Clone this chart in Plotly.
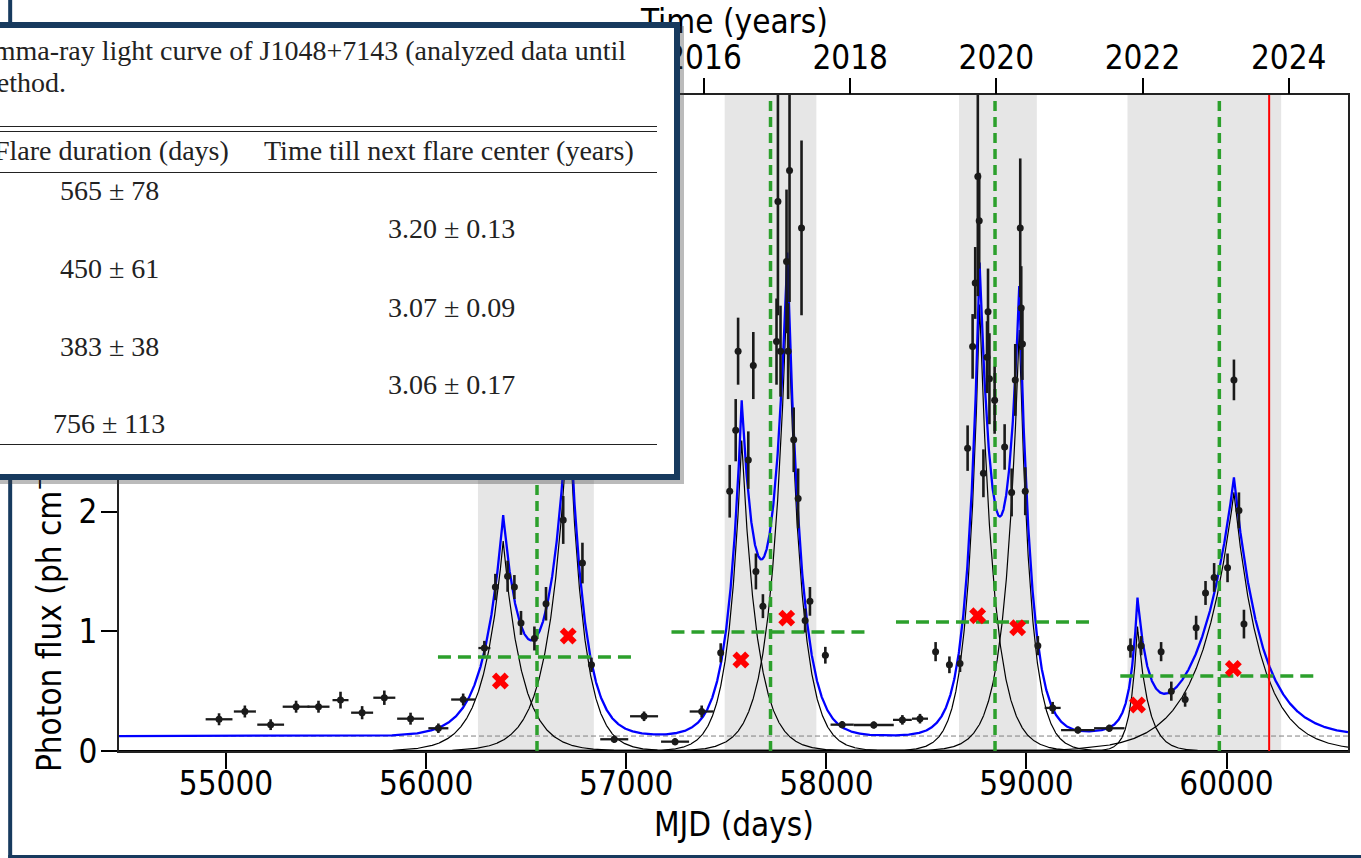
import numpy as np
import plotly.graph_objects as go

# ---------------- data ----------------
mjd = [54965, 55094, 55223, 55350, 55462, 55572, 55680, 55791, 55922, 56061, 56185, 56291,
       56346, 56407, 56441, 56474, 56541, 56599, 56685, 56781, 56826,
       56940, 57089, 57244, 57377, 57472,
       57517, 57547, 57559, 57610, 57635, 57648, 57683, 57751, 57758, 57771, 57801, 57809, 57816,
       57837, 57859, 57876, 57894, 57918, 57995, 58079, 58237, 58380, 58468,
       58546, 58615, 58668, 58706, 58731, 58744, 58757, 58764, 58785, 58803, 58808, 58815, 58841,
       58891, 58926, 58944, 58969, 58974, 58980, 58994, 59057, 59131, 59257, 59414,
       59520, 59573, 59673, 59724, 59793, 59848, 59895, 59938, 60005, 60037, 60062, 60087]
flux = [0.265, 0.33, 0.22, 0.37, 0.37, 0.425, 0.32, 0.445, 0.27, 0.19, 0.43, 0.86,
        1.37, 1.46, 1.37, 1.07, 0.94, 1.23, 1.93, 1.57, 0.72,
        0.098, 0.29, 0.078, 0.33, 0.82,
        2.17, 2.68, 3.34, 2.43, 3.22, 1.50, 1.21, 3.42, 4.59, 3.34, 4.09, 3.34, 4.85,
        2.60, 2.11, 4.37, 1.09, 1.25, 0.80, 0.22, 0.217, 0.26, 0.27,
        0.83, 0.72, 0.73, 2.53, 3.38, 3.91, 4.80, 4.43, 2.32, 3.29, 3.67, 3.11, 2.93,
        2.54, 2.16, 3.10, 4.37, 3.70, 3.40, 2.17, 0.88, 0.36, 0.175, 0.19,
        0.86, 0.88, 0.83, 0.50, 0.43, 1.03, 1.32, 1.45, 1.53, 3.10, 2.01, 1.06]
mjd_err = [67, 55, 67, 67, 55, 40, 55, 55, 67, 50, 60, 30,
           10, 10, 8, 10, 12, 8, 8, 8, 15,
           70, 70, 70, 60, 10,
           8, 6, 6, 6, 6, 8, 15, 6, 6, 6, 6, 6, 6,
           6, 6, 6, 10, 10, 15, 58, 100, 47, 40,
           10, 10, 10, 6, 6, 6, 6, 6, 6, 6, 6, 6, 6,
           6, 6, 6, 6, 6, 6, 6, 8, 40, 84, 76,
           8, 8, 8, 10, 15, 8, 8, 8, 8, 6, 6, 8]
flux_err = [0.05, 0.05, 0.045, 0.05, 0.05, 0.07, 0.055, 0.06, 0.05, 0.04, 0.05, 0.06,
            0.11, 0.13, 0.10, 0.10, 0.10, 0.14, 0.20, 0.17, 0.06,
            0.03, 0.04, 0.03, 0.05, 0.08,
            0.22, 0.26, 0.28, 0.24, 0.28, 0.15, 0.10, 0.36, 0.95, 0.38, 0.60, 0.40, 1.10,
            0.27, 0.25, 0.73, 0.10, 0.12, 0.07, 0.03, 0.03, 0.04, 0.04,
            0.08, 0.07, 0.07, 0.19, 0.27, 0.30, 1.00, 0.40, 0.20, 0.30, 0.36, 0.38, 0.28,
            0.19, 0.20, 0.30, 0.58, 0.35, 0.30, 0.20, 0.08, 0.05, 0.03, 0.03,
            0.08, 0.08, 0.08, 0.08, 0.06, 0.10, 0.10, 0.12, 0.12, 0.17, 0.15, 0.12]

cross_mjd = [56371, 56710, 57573, 57802, 58756, 58956, 59555, 60034]
cross_flux = [0.585, 0.96, 0.76, 1.11, 1.13, 1.03, 0.385, 0.69]

flare_center = [56554, 57721, 58843, 59964]
flare_start = [56259, 57492, 58663, 59505]
flare_end = [56838, 57950, 59052, 60273]
flare_level = [0.785, 0.994, 1.078, 0.627]
level_halfwidth = [495, 495, 495, 495]
baseline_flux = 0.125
last_data_mjd = 60213

# fitted flare components: peak time, amplitude, rise / decay time scales (days)
comp_t0 = [56385, 56712, 57577, 57805, 58766, 58964, 59555, 60037]
comp_amp = [1.754, 2.85, 2.594, 3.9, 3.73, 3.517, 1.04, 2.16]
comp_rise = [98, 95, 67, 78, 59, 72, 35, 165]
comp_decay = [95, 73, 78, 68, 72, 58, 55, 135]

mjd_ticks = [55000, 56000, 57000, 58000, 59000, 60000]
mjd_tick_text = ["55000", "56000", "57000", "58000", "59000", "60000"]
year_ticks = [2016, 2018, 2020, 2022, 2024]
y_ticks = [0, 1, 2]
X_RANGE = [54465, 60607]
Y_RANGE = [0, 5.48]

caption_1 = "Gamma-ray light curve of J1048+7143 (analyzed data until"
caption_2 = "method."
col_duration = "Flare duration (days)"
col_next = "Time till next flare center (years)"
durations = ["565 ± 78", "450 ± 61", "383 ± 38", "756 ± 113"]
next_times = ["3.20 ± 0.13", "3.07 ± 0.09", "3.06 ± 0.17"]


def mjd_to_year(m):
    return 2000.0 + (np.asarray(m, dtype=float) - 51544.5) / 365.25


# ---------------- geometry (pixels) ----------------
W, H = 1361, 858
L, R, T, B = 119, 1350, 95, 751


def px(x):
    return (x - L) / (R - L)


def py(y):
    return (B - y) / (B - T)


SANS = "DejaVu Sans Condensed, DejaVu Sans"
SERIF = "Liberation Serif, Times New Roman, serif"
NAVY = "#173a5e"

fig = go.Figure()

# model: baseline + flare components
t = np.linspace(X_RANGE[0], X_RANGE[1], 6000)
t = np.sort(np.concatenate([t, np.asarray(comp_t0, dtype=float)]))
total = np.full_like(t, baseline_flux)
for t0, a, tr, td in zip(comp_t0, comp_amp, comp_rise, comp_decay):
    d = t - t0
    comp = a * np.where(d < 0, np.exp(d / tr), np.exp(-d / td))
    total = total + comp
    fig.add_trace(go.Scatter(x=t, y=comp, mode="lines", line=dict(color="black", width=1.2),
                             hoverinfo="skip", showlegend=False))
fig.add_trace(go.Scatter(x=t, y=total, mode="lines", line=dict(color="#0000ff", width=2.3),
                         hoverinfo="skip", showlegend=False))

# flare centres / levels
for c, lev, hw in zip(flare_center, flare_level, level_halfwidth):
    fig.add_trace(go.Scatter(x=[c, c], y=Y_RANGE, mode="lines",
                             line=dict(color="#2ca02c", width=3.5, dash="10px,6px"),
                             hoverinfo="skip", showlegend=False))
    fig.add_trace(go.Scatter(x=[c - hw, c + hw], y=[lev, lev], mode="lines",
                             line=dict(color="#2ca02c", width=3.5, dash="13px,7px"),
                             hoverinfo="skip", showlegend=False))
fig.add_trace(go.Scatter(x=[last_data_mjd, last_data_mjd], y=Y_RANGE, mode="lines",
                         line=dict(color="#ff0000", width=2), hoverinfo="skip", showlegend=False))

# data
fig.add_trace(go.Scatter(x=mjd, y=flux, mode="markers",
                         marker=dict(color="#1a1a1a", size=7),
                         error_x=dict(type="data", array=mjd_err, color="#1a1a1a", thickness=2.3, width=0),
                         error_y=dict(type="data", array=flux_err, color="#1a1a1a", thickness=2.6, width=0),
                         showlegend=False))
fig.add_trace(go.Scatter(x=cross_mjd, y=cross_flux, mode="markers",
                         marker=dict(symbol="x", color="#ff0000", size=15, line=dict(width=0)),
                         showlegend=False))
# top axis carrier
fig.add_trace(go.Scatter(x=mjd_to_year(X_RANGE), y=[None, None], xaxis="x2", mode="lines",
                         showlegend=False, hoverinfo="skip"))

shapes = []
for s, e in zip(flare_start, flare_end):
    shapes.append(dict(type="rect", xref="x", yref="paper", x0=s, x1=e, y0=0, y1=1,
                       fillcolor="rgba(128,128,128,0.2)", line=dict(width=0), layer="below"))
shapes.append(dict(type="line", xref="paper", yref="y", x0=0, x1=1, y0=baseline_flux, y1=baseline_flux,
                   line=dict(color="#808080", width=1, dash="5px,3px"), layer="below"))
# window frame
shapes.append(dict(type="rect", xref="paper", yref="paper", x0=px(8), x1=px(12), y0=py(0), y1=py(H),
                   fillcolor=NAVY, line=dict(width=0), layer="above"))
shapes.append(dict(type="rect", xref="paper", yref="paper", x0=px(8), x1=px(W + 5), y0=py(855), y1=py(H + 5),
                   fillcolor=NAVY, line=dict(width=0), layer="above"))

ann = []
# axis titles (drawn first so the table box covers them)
ann.append(dict(text="MJD (days)", xref="paper", yref="paper", x=px((L + R) / 2), y=py(824),
                xanchor="center", yanchor="middle", showarrow=False, font=dict(family=SANS, size=33, color="black")))
ann.append(dict(text="Time (years)", xref="paper", yref="paper", x=px((L + R) / 2), y=py(21),
                xanchor="center", yanchor="middle", showarrow=False, font=dict(family=SANS, size=33, color="black")))
ann.append(dict(text="Photon flux (ph cm<sup>−2</sup> s<sup>−1</sup>) ×10<sup>−7</sup>", xref="paper", yref="paper",
                x=px(47), y=py(774), xanchor="center", yanchor="bottom", textangle=-90, showarrow=False,
                font=dict(family=SANS, size=33, color="black")))

# table box with shadow
box_l, box_r, box_t, box_b, bw = -30, 681, 22, 480, 6
ann.append(dict(text=" ", xref="paper", yref="paper", x=px(box_r + 4), y=py(box_t + 4), xanchor="right",
                yanchor="top", width=box_r - box_l, height=box_b - box_t, bgcolor="rgba(60,60,60,0.35)",
                borderpad=0, borderwidth=0, showarrow=False))
ann.append(dict(text=" ", xref="paper", yref="paper", x=px(box_r), y=py(box_t), xanchor="right",
                yanchor="top", width=box_r - box_l - 2 * bw, height=box_b - box_t - 2 * bw, bgcolor="white",
                bordercolor=NAVY, borderwidth=bw, borderpad=0, showarrow=False))
# table rules
for yy in [126, 131, 172, 445]:
    ann.append(dict(text=" ", xref="paper", yref="paper", x=px(658), y=py(yy), xanchor="right", yanchor="middle",
                    width=700, height=1, bgcolor="#222222", borderpad=0, borderwidth=0, showarrow=False,
                    font=dict(size=1)))
tfont = dict(family=SERIF, size=28, color="#222222")
ann.append(dict(text=caption_1, xref="paper", yref="paper", x=px(629), y=py(50.5), xanchor="right",
                yanchor="middle", showarrow=False, font=tfont))
ann.append(dict(text=caption_2, xref="paper", yref="paper", x=px(68), y=py(82.5), xanchor="right",
                yanchor="middle", showarrow=False, font=tfont))
ann.append(dict(text=col_duration, xref="paper", yref="paper", x=px(231), y=py(150.5), xanchor="right",
                yanchor="middle", showarrow=False, font=tfont))
ann.append(dict(text=col_next, xref="paper", yref="paper", x=px(262), y=py(150.5), xanchor="left",
                yanchor="middle", showarrow=False, font=tfont))
dur_y = [190.5, 268.5, 346.5, 423.5]
nxt_y = [228.5, 307.5, 384.5]
for txt, yy in zip(durations, dur_y):
    ann.append(dict(text=txt, xref="paper", yref="paper", x=px(109), y=py(yy), xanchor="center",
                    yanchor="middle", showarrow=False, font=tfont))
for txt, yy in zip(next_times, nxt_y):
    ann.append(dict(text=txt, xref="paper", yref="paper", x=px(452), y=py(yy), xanchor="center",
                    yanchor="middle", showarrow=False, font=tfont))

tickfont = dict(family=SANS, size=33, color="black")
fig.update_layout(
    width=W, height=H, autosize=False,
    margin=dict(l=L, r=W - R, t=T, b=H - B, pad=0),
    paper_bgcolor="white", plot_bgcolor="white", showlegend=False,
    xaxis=dict(range=X_RANGE, tickvals=mjd_ticks, ticktext=mjd_tick_text, ticks="outside", ticklen=16,
               tickwidth=1.8, tickcolor="black", showline=True, linecolor="#222222", linewidth=1.8, mirror=True,
               showgrid=False, zeroline=False, tickfont=tickfont, ticklabelstandoff=-14),
    xaxis2=dict(range=list(mjd_to_year(X_RANGE)), overlaying="x", side="top", anchor="y",
                tickvals=year_ticks, ticktext=[str(v) for v in year_ticks], ticks="outside", ticklen=16,
                tickwidth=1.8, tickcolor="black", showline=False, showgrid=False, zeroline=False,
                tickfont=tickfont, ticklabelstandoff=-4),
    yaxis=dict(range=Y_RANGE, tickvals=y_ticks, ticks="outside", ticklen=16, tickwidth=1.8,
               tickcolor="black", showline=True, linecolor="#222222", linewidth=1.8, mirror=True,
               showgrid=False, zeroline=False, tickfont=tickfont, ticklabelstandoff=-3),
    shapes=shapes, annotations=ann,
)

fig.write_html("out.html")
